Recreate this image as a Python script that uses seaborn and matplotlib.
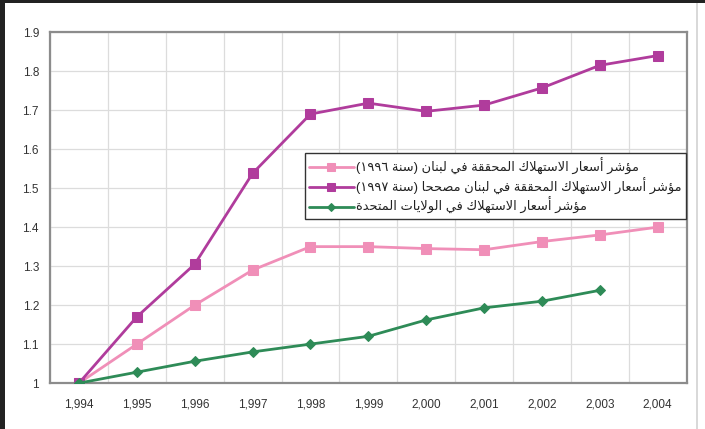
import numpy as np
import pandas as pd
import matplotlib
matplotlib.use("Agg")
import matplotlib.pyplot as plt
from matplotlib.patches import Rectangle
import seaborn as sns

# ---- data -------------------------------------------------------------
years = [1994, 1995, 1996, 1997, 1998, 1999, 2000, 2001, 2002, 2003, 2004]
year_labels = ["1,994", "1,995", "1,996", "1,997", "1,998", "1,999",
               "2,000", "2,001", "2,002", "2,003", "2,004"]
lebanon_cpi = [1.00, 1.10, 1.20, 1.29, 1.35, 1.35, 1.345, 1.342, 1.363, 1.38, 1.40]
lebanon_cpi_corrected = [1.00, 1.17, 1.305, 1.538, 1.69, 1.718, 1.697, 1.713, 1.757, 1.815, 1.84]
us_cpi = [1.00, 1.028, 1.056, 1.08, 1.10, 1.12, 1.162, 1.193, 1.21, 1.238, np.nan]

y_ticks = [1.0, 1.1, 1.2, 1.3, 1.4, 1.5, 1.6, 1.7, 1.8, 1.9]
y_tick_labels = ["1", "1.1", "1.2", "1.3", "1.4", "1.5", "1.6", "1.7", "1.8", "1.9"]

label_lebanon = "مؤشر أسعار الاستهلاك المحققة في لبنان (سنة ١٩٩٦)"
label_lebanon_corrected = "مؤشر أسعار الاستهلاك المحققة في لبنان مصححا (سنة ١٩٩٧)"
label_us = "مؤشر أسعار الاستهلاك في الولايات المتحدة"


# ---- minimal Arabic shaping (contextual forms + right-to-left order) ----
_FORMS = {
    "ا": (0xFE8D, 0xFE8E), "أ": (0xFE83, 0xFE84), "ؤ": (0xFE85, 0xFE86),
    "ة": (0xFE93, 0xFE94), "د": (0xFEA9, 0xFEAA), "ر": (0xFEAD, 0xFEAE),
    "و": (0xFEED, 0xFEEE),
    "ب": (0xFE8F, 0xFE90, 0xFE91, 0xFE92), "ت": (0xFE95, 0xFE96, 0xFE97, 0xFE98),
    "ح": (0xFEA1, 0xFEA2, 0xFEA3, 0xFEA4), "س": (0xFEB1, 0xFEB2, 0xFEB3, 0xFEB4),
    "ش": (0xFEB5, 0xFEB6, 0xFEB7, 0xFEB8), "ص": (0xFEB9, 0xFEBA, 0xFEBB, 0xFEBC),
    "ع": (0xFEC9, 0xFECA, 0xFECB, 0xFECC), "ف": (0xFED1, 0xFED2, 0xFED3, 0xFED4),
    "ق": (0xFED5, 0xFED6, 0xFED7, 0xFED8), "ك": (0xFED9, 0xFEDA, 0xFEDB, 0xFEDC),
    "ل": (0xFEDD, 0xFEDE, 0xFEDF, 0xFEE0), "م": (0xFEE1, 0xFEE2, 0xFEE3, 0xFEE4),
    "ن": (0xFEE5, 0xFEE6, 0xFEE7, 0xFEE8), "ه": (0xFEE9, 0xFEEA, 0xFEEB, 0xFEEC),
    "ي": (0xFEF1, 0xFEF2, 0xFEF3, 0xFEF4),
}
_LAM_ALEF = {"ا": (0xFEFB, 0xFEFC), "أ": (0xFEF7, 0xFEF8)}
_MIRROR = {"(": ")", ")": "("}


def shape_rtl(text):
    s = text
    n = len(s)
    shaped = []
    i = 0
    while i < n:
        c = s[i]
        if c not in _FORMS:
            shaped.append(c)
            i += 1
            continue
        prev = s[i - 1] if i > 0 else None
        joins_prev = prev in _FORMS and len(_FORMS[prev]) == 4
        if c == "ل" and i + 1 < n and s[i + 1] in _LAM_ALEF:
            lig = _LAM_ALEF[s[i + 1]]
            shaped.append(chr(lig[1] if joins_prev else lig[0]))
            i += 2
            continue
        nxt = s[i + 1] if i + 1 < n else None
        f = _FORMS[c]
        joins_next = len(f) == 4 and nxt in _FORMS
        if joins_prev and joins_next:
            g = f[3]
        elif joins_prev:
            g = f[1]
        elif joins_next:
            g = f[2]
        else:
            g = f[0]
        shaped.append(chr(g))
        i += 1
    # split into digit runs (kept left-to-right) and everything else
    runs = []
    for ch in shaped:
        is_digit = ch.isdigit()
        if runs and runs[-1][0] == is_digit:
            runs[-1][1].append(ch)
        else:
            runs.append((is_digit, [ch]))
    out = []
    for is_digit, chars in reversed(runs):
        if is_digit:
            out.extend(chars)
        else:
            out.extend(_MIRROR.get(ch, ch) for ch in reversed(chars))
    return "".join(out)


# ---- style -------------------------------------------------------------
sns.set_theme(style="white")
plt.rcParams["font.family"] = ["Liberation Sans", "DejaVu Sans"]

df = pd.DataFrame({
    "year": years,
    "lebanon": lebanon_cpi,
    "lebanon_corrected": lebanon_cpi_corrected,
    "us": us_cpi,
})

fig = plt.figure(figsize=(7.05, 4.29), dpi=100)
fig.patch.set_facecolor("white")
ax = fig.add_axes([0.071, 0.107, 0.903, 0.818])
ax.set_facecolor("white")

c_pink = "#f08fb8"
c_magenta = "#b03c9c"
c_green = "#2e8b57"

sns.lineplot(data=df, x="year", y="lebanon", ax=ax, color=c_pink, lw=2,
             marker="s", markersize=7, markeredgecolor=c_pink,
             label=shape_rtl(label_lebanon), zorder=3)
sns.lineplot(data=df, x="year", y="lebanon_corrected", ax=ax, color=c_magenta, lw=2,
             marker="s", markersize=7.5, markeredgecolor=c_magenta,
             label=shape_rtl(label_lebanon_corrected), zorder=4)
sns.lineplot(data=df, x="year", y="us", ax=ax, color=c_green, lw=2,
             marker="D", markersize=5.5, markeredgecolor=c_green,
             label=shape_rtl(label_us), zorder=5)

# ---- axes --------------------------------------------------------------
ax.set_xlim(years[0] - 0.5, years[-1] + 0.5)
ax.set_ylim(1.0, 1.9)
ax.set_xticks(years)
ax.set_xticklabels(year_labels, fontsize=8.5, color="#333333")
ax.set_xticks([y + 0.5 for y in years[:-1]] + [years[0] - 0.5, years[-1] + 0.5], minor=True)
ax.set_yticks(y_ticks)
ax.set_yticklabels(y_tick_labels, fontsize=8.5, color="#333333")
ax.set_xlabel("")
ax.set_ylabel("")

ax.tick_params(axis="x", which="major", length=0, pad=11)
ax.tick_params(axis="x", which="minor", length=4, width=1.2, color="#808080", direction="out")
ax.tick_params(axis="y", which="major", length=4, width=1.2, color="#808080", direction="out", pad=4)

ax.grid(False)
ax.grid(axis="x", which="minor", color="#dcdcdc", lw=0.9)
ax.grid(axis="y", which="major", color="#dcdcdc", lw=0.9)
ax.set_axisbelow(True)

for side in ["left", "right", "top", "bottom"]:
    ax.spines[side].set_visible(True)
    ax.spines[side].set_color("#8c8c8c")
    ax.spines[side].set_linewidth(1.6)

leg = ax.legend(loc="upper left", bbox_to_anchor=(0.40, 0.655), frameon=True,
                fancybox=False, edgecolor="#333333", framealpha=1,
                fontsize=9.4, handlelength=3.4, handletextpad=0.2,
                markerscale=0.75, borderpad=0.35, labelspacing=0.2,
                borderaxespad=0)
leg.get_frame().set_linewidth(1.0)
for t in leg.get_texts():
    t.set_color("#222222")

# ---- outer frame -------------------------------------------------------
fig.patches.append(Rectangle((0, 0), 5 / 705, 1, transform=fig.transFigure,
                             facecolor="#222222", edgecolor="none", zorder=10))
fig.patches.append(Rectangle((0, 1 - 3 / 429), 1, 3 / 429, transform=fig.transFigure,
                             facecolor="#222222", edgecolor="none", zorder=10))
fig.patches.append(Rectangle((1 - 9 / 705, 0), 2 / 705, 1 - 3 / 429, transform=fig.transFigure,
                             facecolor="#d9d9d9", edgecolor="none", zorder=10))

fig.savefig("out.png", dpi=100, facecolor=fig.get_facecolor())
